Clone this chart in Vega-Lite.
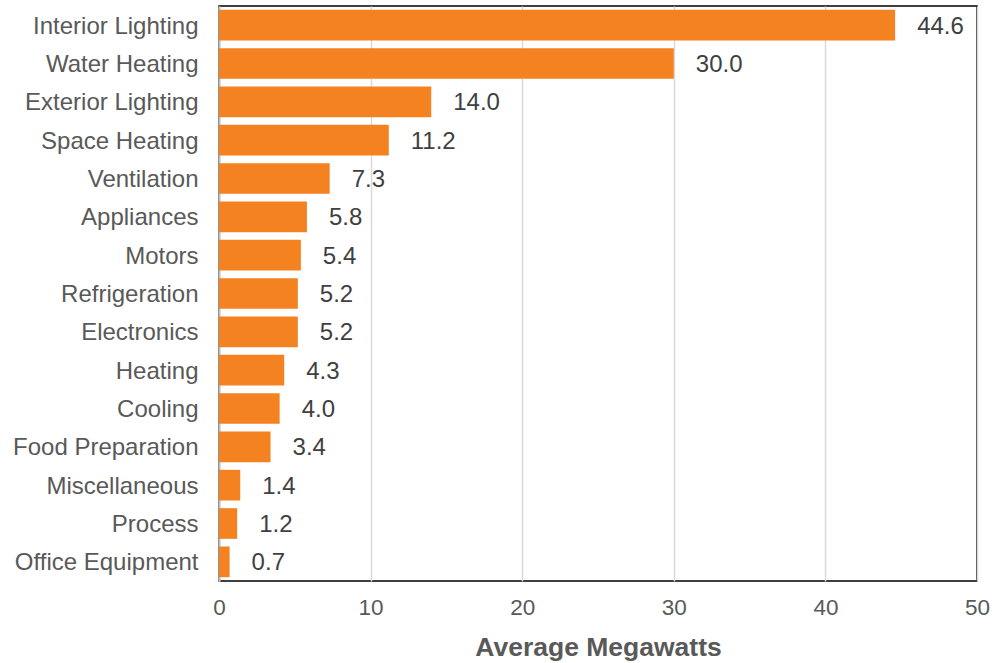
{
  "$schema": "https://vega.github.io/schema/vega-lite/v6.json",
  "autosize": "none",
  "width": 758,
  "height": 575,
  "padding": {"left": 219, "top": 6, "right": 25, "bottom": 82},
  "background": "white",
  "config": {
    "font": "Liberation Sans",
    "view": {"stroke": "#000000", "strokeWidth": 1.5}
  },
  "data": {
    "values": [
      {"category": "Interior Lighting", "mw": 44.6},
      {"category": "Water Heating", "mw": 30.0},
      {"category": "Exterior Lighting", "mw": 14.0},
      {"category": "Space Heating", "mw": 11.2},
      {"category": "Ventilation", "mw": 7.3},
      {"category": "Appliances", "mw": 5.8},
      {"category": "Motors", "mw": 5.4},
      {"category": "Refrigeration", "mw": 5.2},
      {"category": "Electronics", "mw": 5.2},
      {"category": "Heating", "mw": 4.3},
      {"category": "Cooling", "mw": 4.0},
      {"category": "Food Preparation", "mw": 3.4},
      {"category": "Miscellaneous", "mw": 1.4},
      {"category": "Process", "mw": 1.2},
      {"category": "Office Equipment", "mw": 0.7}
    ]
  },
  "encoding": {
    "y": {
      "field": "category",
      "type": "nominal",
      "sort": null,
      "scale": {"paddingInner": 0.2, "paddingOuter": 0.1},
      "axis": {
        "title": null,
        "ticks": false,
        "domain": true,
        "domainColor": "#bfbfbf",
        "domainWidth": 2,
        "labelFontSize": 24,
        "labelColor": "#595959",
        "labelPadding": 21,
        "labelOffset": 1.5,
        "labelFont": "Liberation Sans",
        "labelLimit": 300
      }
    },
    "x": {
      "field": "mw",
      "type": "quantitative",
      "scale": {"domain": [0, 50], "nice": false},
      "axis": {
        "values": [0, 10, 20, 30, 40, 50],
        "title": "Average Megawatts",
        "titleFontSize": 26.5,
        "titleFontWeight": "bold",
        "titleColor": "#595959",
        "titlePadding": 16,
        "ticks": false,
        "domain": false,
        "grid": true,
        "gridColor": "#d9d9d9",
        "gridWidth": 1.5,
        "labelFontSize": 22.5,
        "labelColor": "#595959",
        "labelPadding": 15,
        "labelFlush": false,
        "labelFont": "Liberation Sans"
      }
    }
  },
  "layer": [
    {"mark": {"type": "bar", "color": "#f58220"}},
    {
      "mark": {"type": "text", "align": "left", "baseline": "middle", "dx": 22, "dy": 1.5, "fontSize": 24, "color": "#404040", "font": "Liberation Sans"},
      "encoding": {"text": {"field": "mw", "type": "quantitative", "format": ".1f"}}
    }
  ]
}
